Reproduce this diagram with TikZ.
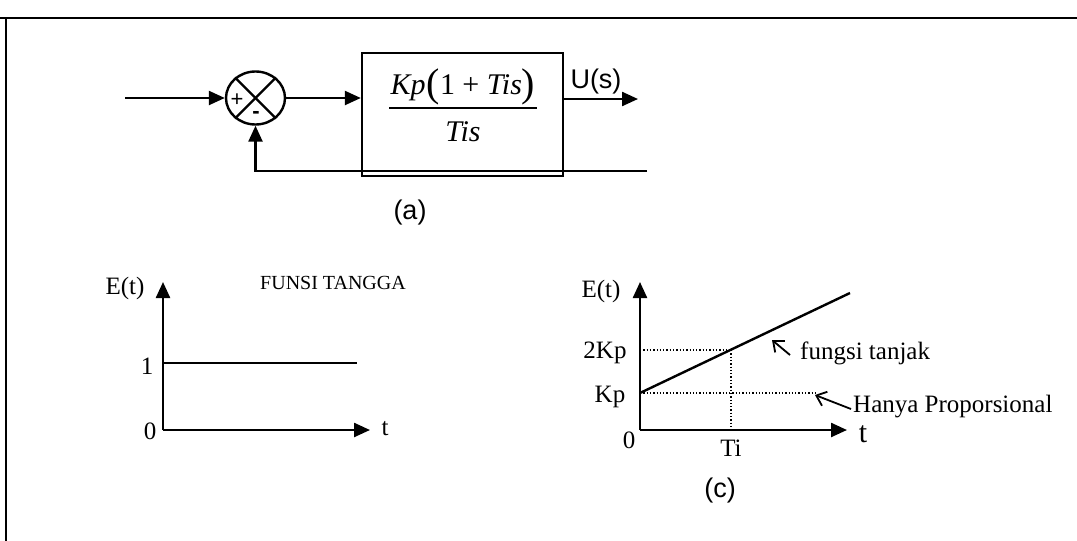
\documentclass[tikz,border=0pt]{standalone}
\usepackage{fontspec}
\setmainfont{Liberation Serif}
\setsansfont{Liberation Sans}
\usetikzlibrary{arrows.meta,shapes.geometric}
\begin{document}
\begin{tikzpicture}[x=1pt,y=-1pt,
  ln/.style={line width=2.4pt},
  arr/.style={ln,-{Triangle[length=16pt,width=14pt]}},
  dotl/.style={line width=1.3pt, dotted},
  barb/.style={line width=1.8pt,-{Straight Barb[length=9pt,width=15pt]}},
  sf/.style={font=\sffamily\fontsize{27}{30}\selectfont, inner sep=0pt},
  rm/.style={font=\fontsize{25}{28}\selectfont, inner sep=0pt},
  it/.style={font=\itshape\fontsize{30}{34}\selectfont, inner sep=0pt},
]
\useasboundingbox (0,0) rectangle (1077,541);
% frame
\draw[line width=2pt] (0,18) -- (1077,18);
\draw[line width=2pt] (6,18) -- (6,541);

% ---------- (a) block diagram ----------
\coordinate (in) at (125,98);
\node[ellipse, draw, ln, minimum width=59pt, minimum height=53pt, inner sep=0pt] (sum) at (255.5,98) {};
\draw[ln] (sum.45) -- (sum.225);
\draw[ln] (sum.135) -- (sum.315);
\node[font=\sffamily\fontsize{22}{24}\selectfont, inner sep=0pt] (plus) at (237,100) {+};
\node[font=\sffamily\bfseries\fontsize{22}{24}\selectfont, inner sep=0pt] (minus) at (256,115) {-};
\node[draw, ln, minimum width=201pt, minimum height=123pt, inner sep=0pt] (blk) at (462.5,114.5) {};
\node[it] (num) at (463,87) {Kp\kern1pt\raisebox{-2pt}{\fontsize{40}{40}\selectfont\upshape(}\upshape 1 + \itshape Tis\raisebox{-2pt}{\fontsize{40}{40}\selectfont\upshape)}};
\coordinate (fl1) at (389,108);
\coordinate (fl2) at (537,108);
\draw[ln] (fl1) -- (fl2);
\node[it] (den) at (463,132) {Tis};
\coordinate (out) at (638,99);
\coordinate (fbr) at (647,171);
\draw[arr] (in) -- (sum.west);
\draw[arr] (sum.east) -- (blk.west |- sum.east);
\draw[arr] (blk.east |- out) -- (out);
\draw[arr] (fbr) -- (sum.south |- fbr) -- (sum.south);
\node[sf] (us) at (596,82) {U(s)};
\node[sf] (la) at (410,213) {(a)};

% ---------- step graph ----------
\coordinate (o1) at (163,430);
\coordinate (y1) at (163,282);
\coordinate (x1) at (370,430);
\draw[arr] (o1) -- (y1);
\draw[arr] (o1) -- (x1);
\coordinate (s1) at (163,363);
\coordinate (s2) at (357,363);
\draw[ln] (s1) -- (s2);
\node[rm] (e1) at (125,288) {E(t)};
\node[font=\fontsize{20}{22}\selectfont, inner sep=0pt] (funsi) at (333,283) {FUNSI TANGGA};
\node[rm] (one) at (147,366) {1};
\node[rm] (zero1) at (150,431) {0};
\node[rm] (t1) at (385,429) {t};

% ---------- ramp graph ----------
\coordinate (o2) at (640,430);
\coordinate (y2) at (640,282);
\coordinate (x2) at (847,430);
\draw[arr] (o2) -- (y2);
\draw[arr] (o2) -- (x2);
\coordinate (kp) at (640,393);
\coordinate (r2) at (850,293);
\coordinate (ti) at (731,350);
\coordinate (hp) at (815,393);
\coordinate (k2) at (640,350);
\draw[dotl] (kp) -- (hp);
\draw[dotl] (k2) -- (ti);
\draw[dotl] (ti) -- (ti |- o2);
\draw[ln] (kp) -- (r2);
\node[rm] (e2) at (601,291) {E(t)};
\node[rm] (l2kp) at (605,353) {2Kp};
\node[rm] (lkp) at (610,397) {Kp};
\node[rm] (zero2) at (629,440) {0};
\node[rm] (lti) at (731,448) {Ti};
\node[font=\fontsize{30}{32}\selectfont, inner sep=0pt] (t2) at (863,434) {t};
\node[rm, anchor=west] (ft) at (800,353) {fungsi tanjak};
\node[rm, anchor=west] (hanya) at (853,407) {Hanya Proporsional};
\coordinate (fa) at (790,355);
\coordinate (fb) at (772,340);
\coordinate (ha) at (851,409);
\coordinate (hb) at (815,395);
\draw[barb] (fa) -- (fb);
\draw[barb] (ha) -- (hb);
\node[sf] (lc) at (720,491) {(c)};
\end{tikzpicture}
\end{document}
